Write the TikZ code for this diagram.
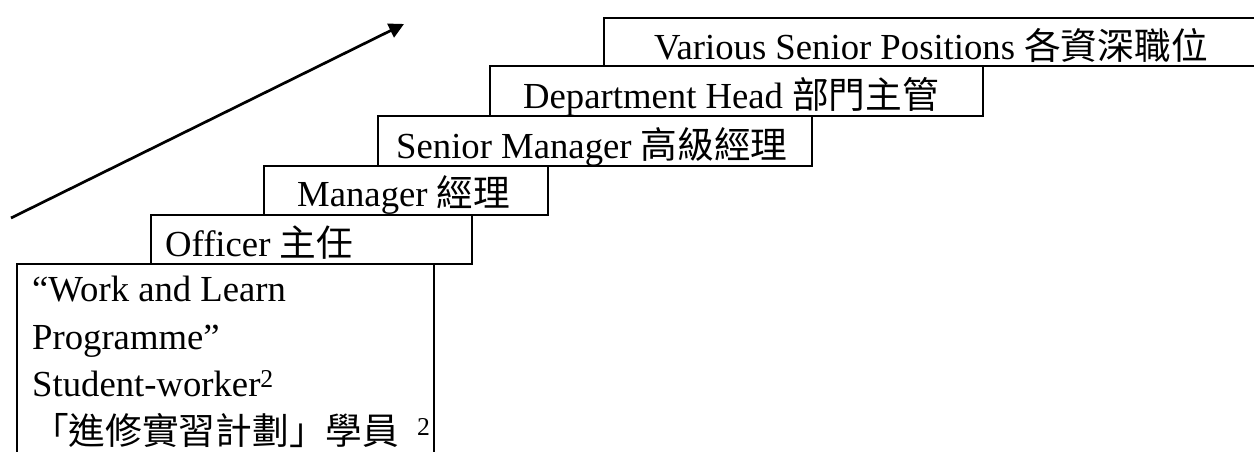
\documentclass[tikz,border=0pt]{standalone}
\usepackage{fontspec}
\setmainfont{Liberation Serif}
\newfontfamily\cjk{Noto Sans CJK TC}
\usetikzlibrary{arrows.meta}
\begin{document}
\begin{tikzpicture}[x=1pt,y=-1pt,
  box/.style 2 args={draw, line width=2.2pt, minimum width=#1, minimum height=#2, inner sep=0pt, anchor=north west},
  lbl/.style={inner sep=0pt, anchor=base west, font=\fontsize{36.7}{47.5}\selectfont},
  arrowline/.style={line width=2.7pt, -{Triangle[length=15pt,width=15pt]}}
]
\useasboundingbox (0,0) rectangle (1254,452);
\clip (0,0) rectangle (1254,452);
% boxes
\node[box={680pt}{48pt}] (vsp) at (603,17) {};
\node[box={493pt}{50pt}] (dept) at (489,65) {};
\node[box={434pt}{50pt}] (smgr) at (377,115) {};
\node[box={284pt}{49pt}] (mgr) at (263,165) {};
\node[box={321pt}{49pt}] (off) at (150,214) {};
\node[box={417pt}{230pt}] (work) at (16,263) {};
% labels
\node[lbl] (tvsp) at ([xshift=51pt,yshift=8pt]vsp.south west) {Various Senior Positions {\cjk 各資深職位}};
\node[lbl] (tdept) at ([xshift=34pt,yshift=9pt]dept.south west) {Department Head {\cjk 部門主管}};
\node[lbl] (tsmgr) at ([xshift=19pt,yshift=9pt]smgr.south west) {Senior Manager {\cjk 高級經理}};
\node[lbl] (tmgr) at ([xshift=34pt,yshift=10pt]mgr.south west) {Manager {\cjk 經理}};
\node[lbl] (toff) at ([xshift=15pt,yshift=9pt]off.south west) {Officer {\cjk 主任}};
\node[lbl, anchor=north west, align=left] (twork) at ([xshift=16pt,yshift=-13pt]work.north west)
  {``Work and Learn\\Programme''\\Student-worker\textsuperscript{2}\\{\cjk 「進修實習計劃」學員}\hspace{18pt}\textsuperscript{2}};
% arrow
\coordinate (a0) at (11,218);
\coordinate (a1) at (404,24);
\draw[arrowline] (a0) -- (a1);
\end{tikzpicture}
\end{document}
